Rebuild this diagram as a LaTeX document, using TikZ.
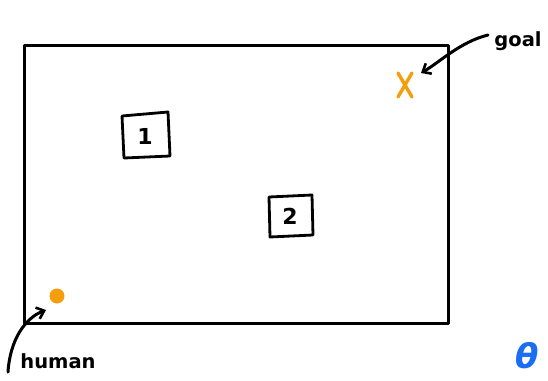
\documentclass[tikz,border=0pt]{standalone}
\usepackage{fontspec}
\setmainfont{DejaVu Sans}
\usetikzlibrary{arrows.meta}
\definecolor{markorange}{HTML}{F59E0B}
\definecolor{thetablue}{HTML}{1A6EF5}
\tikzset{
  ink/.style={line width=3pt, line cap=round, line join=round},
  boxline/.style={line width=2.8pt, line cap=round, line join=round},
  label/.style={font=\fontsize{19.5}{20}\selectfont\bfseries, inner sep=0pt},
  numtext/.style={font=\fontsize{22}{22}\selectfont\bfseries, inner sep=0pt},
  pointer/.style={ink, -{Straight Barb[length=7pt,width=12pt,line width=2.6pt]}}
}
\begin{document}
\begin{tikzpicture}[x=1pt,y=-1pt]
\useasboundingbox (0,0) rectangle (548,380);
% field
\draw[ink] (24,45) rectangle (448,323);
% goal marker
\draw[markorange, line width=3.4pt, line cap=round] (398,73) -- (412,97) (412,73) -- (398,97);
% obstacles
\node[numtext] (one) at (145,136) {1};
\draw[boxline] (122,116) -- (168,112) -- (170,156) -- (124,158) -- cycle;
\node[numtext] (two) at (290,216) {2};
\draw[boxline] (269,197) -- (312,195) -- (313,235) -- (270,237) -- cycle;
% human
\fill[markorange] (57,296) circle (7.5);
\node[label, anchor=base] (human) at (58,368) {human};
\coordinate (hstart) at (8,372);
\coordinate (hend) at (46,310);
\draw[pointer] (hstart) .. controls (10,340) and (25,318) .. (hend);
% goal label
\node[label, anchor=base] (goal) at (518,46) {goal};
\coordinate (gstart) at (488,35);
\coordinate (gend) at (421,73);
\draw[pointer] (gstart) .. controls (460,42) and (440,62) .. (gend);
% parameter
\node[font=\fontsize{34}{34}\selectfont\bfseries\itshape, text=thetablue, inner sep=0pt] (theta) at (527,356) {θ};
\end{tikzpicture}
\end{document}
